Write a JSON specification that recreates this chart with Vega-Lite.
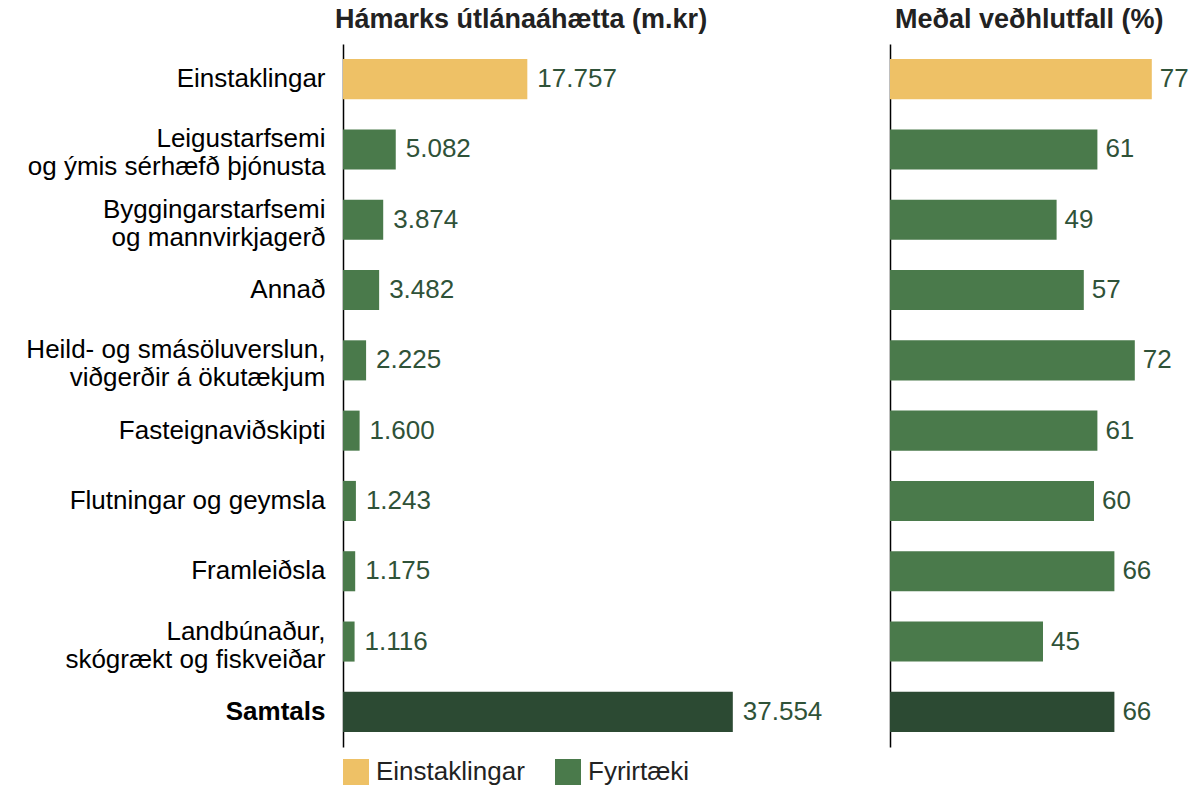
{
  "$schema": "https://vega.github.io/schema/vega-lite/v6.json",
  "background": "white",
  "padding": {"left": 25, "top": 6, "right": 0, "bottom": 0},
  "config": {
    "font": "Liberation Sans",
    "view": {"stroke": null},
    "locale": {"number": {"decimal": ",", "thousands": ".", "grouping": [3], "currency": ["", " kr."]}},
    "title": {"fontSize": 27, "fontWeight": "bold", "color": "#222222", "anchor": "start", "frame": "group", "offset": 10}
  },
  "datasets": {
    "d": [
      {"flokkur": "Einstaklingar", "hopur": "Einstaklingar", "utlan": 17757, "vedhlutfall": 77},
      {"flokkur": "Leigustarfsemi|og ýmis sérhæfð þjónusta", "hopur": "Fyrirtæki", "utlan": 5082, "vedhlutfall": 61},
      {"flokkur": "Byggingarstarfsemi |og mannvirkjagerð", "hopur": "Fyrirtæki", "utlan": 3874, "vedhlutfall": 49},
      {"flokkur": "Annað", "hopur": "Fyrirtæki", "utlan": 3482, "vedhlutfall": 57},
      {"flokkur": "Heild- og smásöluverslun,|viðgerðir á ökutækjum", "hopur": "Fyrirtæki", "utlan": 2225, "vedhlutfall": 72},
      {"flokkur": "Fasteignaviðskipti", "hopur": "Fyrirtæki", "utlan": 1600, "vedhlutfall": 61},
      {"flokkur": "Flutningar og geymsla", "hopur": "Fyrirtæki", "utlan": 1243, "vedhlutfall": 60},
      {"flokkur": "Framleiðsla", "hopur": "Fyrirtæki", "utlan": 1175, "vedhlutfall": 66},
      {"flokkur": "Landbúnaður, |skógrækt og fiskveiðar", "hopur": "Fyrirtæki", "utlan": 1116, "vedhlutfall": 45},
      {"flokkur": "Samtals", "hopur": "Samtals", "utlan": 37554, "vedhlutfall": 66}
    ]
  },
  "spacing": 28,
  "hconcat": [
    {
      "width": 519,
      "height": 703,
      "data": {"name": "d"},
      "title": {"text": "Hámarks útlánaáhætta (m.kr)", "dx": -8},
      "encoding": {
        "y": {
          "field": "flokkur", "type": "nominal", "sort": null,
          "scale": {"paddingInner": 0.43, "paddingOuter": 0.215},
          "axis": {
            "title": null, "ticks": false, "domainColor": "#000000", "domainWidth": 1.5,
            "labelFontSize": 26, "labelColor": "#000000", "labelPadding": 18, "labelLimit": 400,
            "labelLineHeight": 28,
            "labelOffset": {"condition": {"test": "indexof(datum.value, '|') >= 0", "value": -10}, "value": 0},
            "labelFontWeight": {"condition": {"test": "datum.value === 'Samtals'", "value": "bold"}, "value": "normal"},
            "labelExpr": "split(datum.value, '|')"
          }
        },
        "x": {
          "field": "utlan", "type": "quantitative",
          "scale": {"domain": [0, 50000], "nice": false},
          "axis": null
        }
      },
      "layer": [
        {
          "mark": {"type": "bar"},
          "encoding": {
            "color": {
              "field": "hopur", "type": "nominal",
              "scale": {"domain": ["Einstaklingar", "Fyrirtæki", "Samtals"], "range": ["#EEC166", "#4A7A4B", "#2C4A33"]},
              "legend": {
                "values": ["Einstaklingar", "Fyrirtæki"], "title": null, "orient": "none",
                "direction": "horizontal", "legendX": 0, "legendY": 715,
                "symbolType": "square", "symbolSize": 676, "symbolStrokeWidth": 0,
                "labelFontSize": 26, "labelColor": "#222222", "columnPadding": 30, "labelOffset": 7
              }
            }
          }
        },
        {
          "mark": {"type": "text", "align": "left", "dx": 10, "fontSize": 26, "color": "#2F5238"},
          "encoding": {"text": {"field": "utlan", "type": "quantitative", "format": ",.0f"}}
        }
      ]
    },
    {
      "width": 289,
      "height": 703,
      "data": {"name": "d"},
      "title": {"text": "Meðal veðhlutfall (%)", "dx": 5},
      "encoding": {
        "y": {
          "field": "flokkur", "type": "nominal", "sort": null,
          "scale": {"paddingInner": 0.43, "paddingOuter": 0.215},
          "axis": {"title": null, "ticks": false, "labels": false, "domainColor": "#000000", "domainWidth": 1.5}
        },
        "x": {
          "field": "vedhlutfall", "type": "quantitative",
          "scale": {"domain": [0, 85], "nice": false},
          "axis": null
        }
      },
      "layer": [
        {
          "mark": {"type": "bar"},
          "encoding": {
            "color": {
              "field": "hopur", "type": "nominal",
              "scale": {"domain": ["Einstaklingar", "Fyrirtæki", "Samtals"], "range": ["#EEC166", "#4A7A4B", "#2C4A33"]},
              "legend": null
            }
          }
        },
        {
          "mark": {"type": "text", "align": "left", "dx": 8, "fontSize": 26, "color": "#2F5238"},
          "encoding": {"text": {"field": "vedhlutfall", "type": "quantitative"}}
        }
      ]
    }
  ]
}
